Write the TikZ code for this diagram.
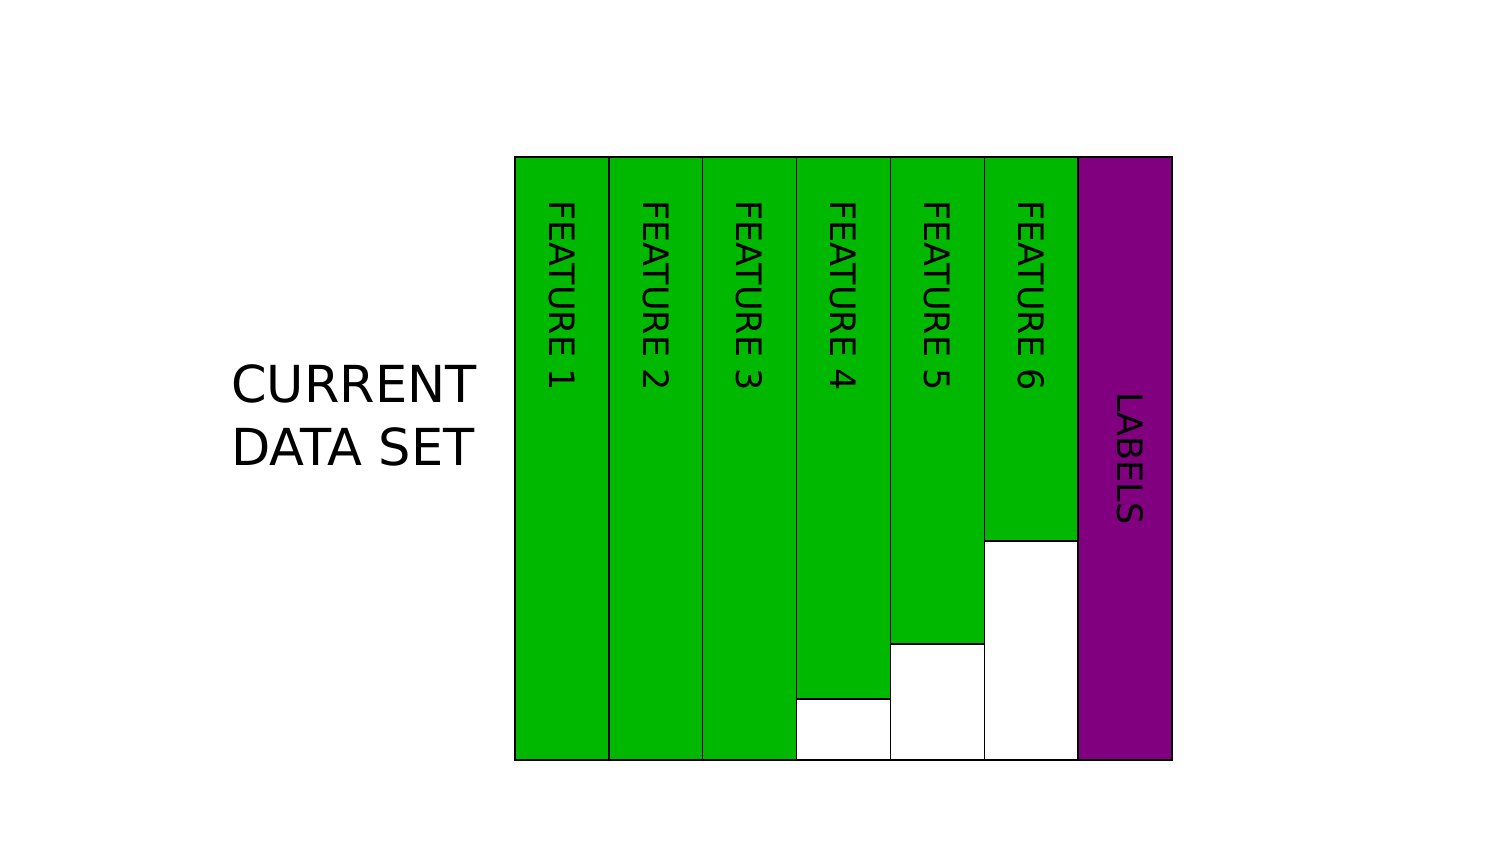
\documentclass[tikz,border=0pt]{standalone}
\usepackage{fontspec}
\setmainfont{DejaVu Sans}
\definecolor{featgreen}{HTML}{00B800}
\definecolor{labpurple}{HTML}{800080}
\begin{document}
\begin{tikzpicture}[x=1pt,y=-1pt,
  colbox/.style={inner sep=0pt,outer sep=0pt,minimum width=93.857pt,anchor=north west},
  feat/.style={colbox,fill=featgreen,minimum height=603pt},
  gap/.style={fill=white,inner sep=0pt,outer sep=0pt,minimum width=93.857pt,anchor=south west},
  edge/.style={draw=black,line width=1.5pt},
  ftext/.style={rotate=-90,anchor=west,inner sep=0pt,font=\fontsize{35}{42}\selectfont},
  title/.style={align=left,anchor=north west,inner sep=0pt,font=\fontsize{51}{63}\selectfont}]
\useasboundingbox (0,0) rectangle (1500,844);
\node[feat] (c1) at (515,157) {};
\node[feat] (c2) at (608.857,157) {};
\node[feat] (c3) at (702.714,157) {};
\node[feat] (c4) at (796.571,157) {};
\node[feat] (c5) at (890.429,157) {};
\node[feat] (c6) at (984.286,157) {};
\node[colbox,fill=labpurple,minimum height=603pt] (c7) at (1078.143,157) {};
\node[gap,minimum height=61pt] (w4) at (c4.south west) {};
\node[gap,minimum height=116pt] (w5) at (c5.south west) {};
\node[gap,minimum height=219pt] (w6) at (c6.south west) {};
\foreach \n in {c1,c2,c3,c4,c5,c6,c7,w4,w5,w6}{
  \draw[edge] (\n.north west) rectangle (\n.south east);
}
\foreach \i in {1,...,6}{
  \node[ftext] (t\i) at ([yshift=-43pt]c\i.north) {FEATURE \i};
}
\node[rotate=-90,inner sep=0pt,font=\fontsize{35}{42}\selectfont] (lab) at ([xshift=5pt]c7.center) {LABELS};
\node[title] (ttl) at (231,364) {CURRENT\\DATA SET};
\end{tikzpicture}
\end{document}
